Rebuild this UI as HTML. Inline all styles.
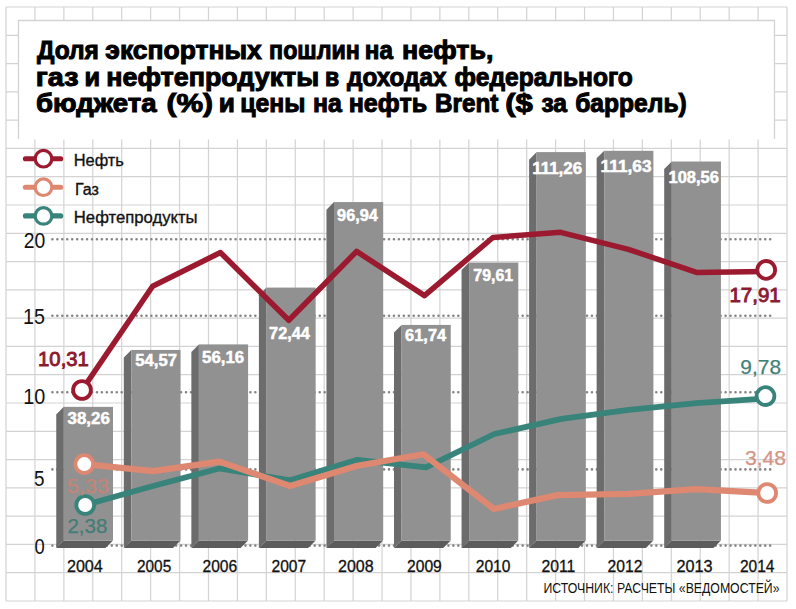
<!DOCTYPE html>
<html><head><meta charset="utf-8"><title>Chart</title>
<style>html,body{margin:0;padding:0;background:#fff;}svg{display:block;}</style>
</head><body>
<svg width="796" height="609" viewBox="0 0 796 609">
<rect width="796" height="609" fill="#fff"/>
<path d="M6.00 7V601M34.93 7V601M63.85 7V601M92.78 7V601M121.70 7V601M150.63 7V601M179.56 7V601M208.48 7V601M237.41 7V601M266.33 7V601M295.26 7V601M324.19 7V601M353.11 7V601M382.04 7V601M410.96 7V601M439.89 7V601M468.82 7V601M497.74 7V601M526.67 7V601M555.59 7V601M584.52 7V601M613.45 7V601M642.37 7V601M671.30 7V601M700.22 7V601M729.15 7V601M758.08 7V601M787.00 7V601M6 7.00H787M6 35.29H787M6 63.57H787M6 91.86H787M6 120.14H787M6 148.43H787M6 176.72H787M6 205.00H787M6 233.29H787M6 261.57H787M6 289.86H787M6 318.15H787M6 346.43H787M6 374.72H787M6 403.00H787M6 431.29H787M6 459.58H787M6 487.86H787M6 516.15H787M6 544.43H787M6 572.72H787M6 601.01H787" stroke="#d3d3d3" stroke-width="1.2" fill="none"/>
<rect x="18.5" y="20.5" width="756" height="119" fill="#fff"/>
<path d="M18.5 139V20.5H774.5V139" stroke="#d3d3d3" stroke-width="1.3" fill="none"/>
<text x="37.00" y="59.00" font-family="Liberation Sans, Arial, sans-serif" font-weight="bold" font-size="25" fill="#000" stroke="#000" stroke-width="1.0" textLength="61.87" lengthAdjust="spacingAndGlyphs">Доля</text>
<text x="105.35" y="59.00" font-family="Liberation Sans, Arial, sans-serif" font-weight="bold" font-size="25" fill="#000" stroke="#000" stroke-width="1.0" textLength="156.48" lengthAdjust="spacingAndGlyphs">экспортных</text>
<text x="269.11" y="59.00" font-family="Liberation Sans, Arial, sans-serif" font-weight="bold" font-size="25" fill="#000" stroke="#000" stroke-width="1.0" textLength="90.76" lengthAdjust="spacingAndGlyphs">пошлин</text>
<text x="364.83" y="59.00" font-family="Liberation Sans, Arial, sans-serif" font-weight="bold" font-size="25" fill="#000" stroke="#000" stroke-width="1.0" textLength="28.16" lengthAdjust="spacingAndGlyphs">на</text>
<text x="402.07" y="59.00" font-family="Liberation Sans, Arial, sans-serif" font-weight="bold" font-size="25" fill="#000" stroke="#000" stroke-width="1.0" textLength="91.29" lengthAdjust="spacingAndGlyphs">нефть,</text>
<text x="35.85" y="86.00" font-family="Liberation Sans, Arial, sans-serif" font-weight="bold" font-size="25" fill="#000" stroke="#000" stroke-width="1.0" textLength="42.69" lengthAdjust="spacingAndGlyphs">газ</text>
<text x="84.58" y="86.00" font-family="Liberation Sans, Arial, sans-serif" font-weight="bold" font-size="25" fill="#000" stroke="#000" stroke-width="1.0" textLength="15.60" lengthAdjust="spacingAndGlyphs">и</text>
<text x="106.27" y="86.00" font-family="Liberation Sans, Arial, sans-serif" font-weight="bold" font-size="25" fill="#000" stroke="#000" stroke-width="1.0" textLength="212.96" lengthAdjust="spacingAndGlyphs">нефтепродукты</text>
<text x="325.00" y="86.00" font-family="Liberation Sans, Arial, sans-serif" font-weight="bold" font-size="25" fill="#000" stroke="#000" stroke-width="1.0" textLength="14.14" lengthAdjust="spacingAndGlyphs">в</text>
<text x="347.00" y="86.00" font-family="Liberation Sans, Arial, sans-serif" font-weight="bold" font-size="25" fill="#000" stroke="#000" stroke-width="1.0" textLength="99.55" lengthAdjust="spacingAndGlyphs">доходах</text>
<text x="454.58" y="86.00" font-family="Liberation Sans, Arial, sans-serif" font-weight="bold" font-size="25" fill="#000" stroke="#000" stroke-width="1.0" textLength="178.22" lengthAdjust="spacingAndGlyphs">федерального</text>
<text x="36.00" y="112.40" font-family="Liberation Sans, Arial, sans-serif" font-weight="bold" font-size="25" fill="#000" stroke="#000" stroke-width="1.0" textLength="120.64" lengthAdjust="spacingAndGlyphs">бюджета</text>
<text x="166.43" y="112.40" font-family="Liberation Sans, Arial, sans-serif" font-weight="bold" font-size="25" fill="#000" stroke="#000" stroke-width="1.0" textLength="46.56" lengthAdjust="spacingAndGlyphs">(%)</text>
<text x="218.85" y="112.40" font-family="Liberation Sans, Arial, sans-serif" font-weight="bold" font-size="25" fill="#000" stroke="#000" stroke-width="1.0" textLength="16.11" lengthAdjust="spacingAndGlyphs">и</text>
<text x="240.26" y="112.40" font-family="Liberation Sans, Arial, sans-serif" font-weight="bold" font-size="25" fill="#000" stroke="#000" stroke-width="1.0" textLength="65.14" lengthAdjust="spacingAndGlyphs">цены</text>
<text x="313.05" y="112.40" font-family="Liberation Sans, Arial, sans-serif" font-weight="bold" font-size="25" fill="#000" stroke="#000" stroke-width="1.0" textLength="28.85" lengthAdjust="spacingAndGlyphs">на</text>
<text x="348.73" y="112.40" font-family="Liberation Sans, Arial, sans-serif" font-weight="bold" font-size="25" fill="#000" stroke="#000" stroke-width="1.0" textLength="78.36" lengthAdjust="spacingAndGlyphs">нефть</text>
<text x="434.98" y="112.40" font-family="Liberation Sans, Arial, sans-serif" font-weight="bold" font-size="25" fill="#000" stroke="#000" stroke-width="1.0" textLength="63.39" lengthAdjust="spacingAndGlyphs">Brent</text>
<text x="505.15" y="112.40" font-family="Liberation Sans, Arial, sans-serif" font-weight="bold" font-size="25" fill="#000" stroke="#000" stroke-width="1.0" textLength="27.54" lengthAdjust="spacingAndGlyphs">($</text>
<text x="541.43" y="112.40" font-family="Liberation Sans, Arial, sans-serif" font-weight="bold" font-size="25" fill="#000" stroke="#000" stroke-width="1.0" textLength="25.60" lengthAdjust="spacingAndGlyphs">за</text>
<text x="575.17" y="112.40" font-family="Liberation Sans, Arial, sans-serif" font-weight="bold" font-size="25" fill="#000" stroke="#000" stroke-width="1.0" textLength="111.59" lengthAdjust="spacingAndGlyphs">баррель)</text>
<line x1="25.4" y1="158.7" x2="60.7" y2="158.7" stroke="#9b1a2f" stroke-width="5.1" stroke-linecap="round"/>
<circle cx="43.5" cy="158.7" r="8.3" fill="#fff" stroke="#9b1a2f" stroke-width="3.2"/>
<text x="73.70" y="165.90" font-family="Liberation Sans, Arial, sans-serif" font-weight="normal" font-size="17.3" fill="#111" stroke="#111" stroke-width="0.35" textLength="50.25" lengthAdjust="spacingAndGlyphs">Нефть</text>
<line x1="25.4" y1="187.2" x2="60.7" y2="187.2" stroke="#de8771" stroke-width="5.1" stroke-linecap="round"/>
<circle cx="43.5" cy="187.2" r="8.3" fill="#fff" stroke="#de8771" stroke-width="3.2"/>
<text x="74.97" y="194.70" font-family="Liberation Sans, Arial, sans-serif" font-weight="normal" font-size="17.3" fill="#111" stroke="#111" stroke-width="0.35" textLength="23.93" lengthAdjust="spacingAndGlyphs">Газ</text>
<line x1="25.4" y1="215.9" x2="60.7" y2="215.9" stroke="#38837a" stroke-width="5.1" stroke-linecap="round"/>
<circle cx="43.5" cy="215.9" r="8.3" fill="#fff" stroke="#38837a" stroke-width="3.2"/>
<text x="73.84" y="223.40" font-family="Liberation Sans, Arial, sans-serif" font-weight="normal" font-size="17.3" fill="#111" stroke="#111" stroke-width="0.35" textLength="123.73" lengthAdjust="spacingAndGlyphs">Нефтепродукты</text>
<line x1="52.4" y1="545.6" x2="773.5" y2="545.6" stroke="#858585" stroke-width="2.6" stroke-dasharray="0 4.95" stroke-linecap="round"/>
<line x1="52.4" y1="469.4" x2="773.5" y2="469.4" stroke="#858585" stroke-width="2.6" stroke-dasharray="0 4.95" stroke-linecap="round"/>
<line x1="52.4" y1="392.3" x2="773.5" y2="392.3" stroke="#858585" stroke-width="2.6" stroke-dasharray="0 4.95" stroke-linecap="round"/>
<line x1="52.4" y1="315.8" x2="773.5" y2="315.8" stroke="#858585" stroke-width="2.6" stroke-dasharray="0 4.95" stroke-linecap="round"/>
<line x1="52.4" y1="239.3" x2="773.5" y2="239.3" stroke="#858585" stroke-width="2.6" stroke-dasharray="0 4.95" stroke-linecap="round"/>
<text x="23.75" y="248.48" font-family="Liberation Sans, Arial, sans-serif" font-weight="normal" font-size="22.2" fill="#111" textLength="21.54" lengthAdjust="spacingAndGlyphs">20</text>
<text x="23.05" y="323.68" font-family="Liberation Sans, Arial, sans-serif" font-weight="normal" font-size="22.2" fill="#111" textLength="21.91" lengthAdjust="spacingAndGlyphs">15</text>
<text x="23.18" y="403.68" font-family="Liberation Sans, Arial, sans-serif" font-weight="normal" font-size="22.2" fill="#111" textLength="22.04" lengthAdjust="spacingAndGlyphs">10</text>
<text x="34.07" y="485.78" font-family="Liberation Sans, Arial, sans-serif" font-weight="normal" font-size="22.2" fill="#111" textLength="10.50" lengthAdjust="spacingAndGlyphs">5</text>
<text x="34.60" y="553.68" font-family="Liberation Sans, Arial, sans-serif" font-weight="normal" font-size="22.2" fill="#111" textLength="10.23" lengthAdjust="spacingAndGlyphs">0</text>
<polygon points="63.80,406.87 56.25,414.42 56.25,547.95 63.80,540.40" fill="#6c6c6c"/>
<polygon points="63.80,540.40 113.00,540.40 105.45,547.95 56.25,547.95" fill="#5c5c5c"/>
<rect x="63.80" y="406.87" width="49.2" height="133.53" fill="#919192"/>
<polygon points="131.35,349.95 123.80,357.50 123.80,547.95 131.35,540.40" fill="#6c6c6c"/>
<polygon points="131.35,540.40 180.55,540.40 173.00,547.95 123.80,547.95" fill="#5c5c5c"/>
<rect x="131.35" y="349.95" width="49.2" height="190.45" fill="#919192"/>
<polygon points="198.90,344.40 191.35,351.95 191.35,547.95 198.90,540.40" fill="#6c6c6c"/>
<polygon points="198.90,540.40 248.10,540.40 240.55,547.95 191.35,547.95" fill="#5c5c5c"/>
<rect x="198.90" y="344.40" width="49.2" height="196.00" fill="#919192"/>
<polygon points="266.45,287.58 258.90,295.13 258.90,547.95 266.45,540.40" fill="#6c6c6c"/>
<polygon points="266.45,540.40 315.65,540.40 308.10,547.95 258.90,547.95" fill="#5c5c5c"/>
<rect x="266.45" y="287.58" width="49.2" height="252.82" fill="#919192"/>
<polygon points="334.00,202.08 326.45,209.63 326.45,547.95 334.00,540.40" fill="#6c6c6c"/>
<polygon points="334.00,540.40 383.20,540.40 375.65,547.95 326.45,547.95" fill="#5c5c5c"/>
<rect x="334.00" y="202.08" width="49.2" height="338.32" fill="#919192"/>
<polygon points="401.55,324.93 394.00,332.48 394.00,547.95 401.55,540.40" fill="#6c6c6c"/>
<polygon points="401.55,540.40 450.75,540.40 443.20,547.95 394.00,547.95" fill="#5c5c5c"/>
<rect x="401.55" y="324.93" width="49.2" height="215.47" fill="#919192"/>
<polygon points="469.10,262.56 461.55,270.11 461.55,547.95 469.10,540.40" fill="#6c6c6c"/>
<polygon points="469.10,540.40 518.30,540.40 510.75,547.95 461.55,547.95" fill="#5c5c5c"/>
<rect x="469.10" y="262.56" width="49.2" height="277.84" fill="#919192"/>
<polygon points="536.65,152.10 529.10,159.65 529.10,547.95 536.65,540.40" fill="#6c6c6c"/>
<polygon points="536.65,540.40 585.85,540.40 578.30,547.95 529.10,547.95" fill="#5c5c5c"/>
<rect x="536.65" y="152.10" width="49.2" height="388.30" fill="#919192"/>
<polygon points="604.20,150.81 596.65,158.36 596.65,547.95 604.20,540.40" fill="#6c6c6c"/>
<polygon points="604.20,540.40 653.40,540.40 645.85,547.95 596.65,547.95" fill="#5c5c5c"/>
<rect x="604.20" y="150.81" width="49.2" height="389.59" fill="#919192"/>
<polygon points="671.75,161.53 664.20,169.08 664.20,547.95 671.75,540.40" fill="#6c6c6c"/>
<polygon points="671.75,540.40 720.95,540.40 713.40,547.95 664.20,547.95" fill="#5c5c5c"/>
<rect x="671.75" y="161.53" width="49.2" height="378.87" fill="#919192"/>
<text x="67.54" y="424.04" font-family="Liberation Sans, Arial, sans-serif" font-weight="bold" font-size="16.2" fill="#fff" stroke="#fff" stroke-width="0.5" textLength="42.40" lengthAdjust="spacingAndGlyphs">38,26</text>
<text x="135.32" y="365.54" font-family="Liberation Sans, Arial, sans-serif" font-weight="bold" font-size="16.2" fill="#fff" stroke="#fff" stroke-width="0.5" textLength="41.60" lengthAdjust="spacingAndGlyphs">54,57</text>
<text x="202.14" y="362.74" font-family="Liberation Sans, Arial, sans-serif" font-weight="bold" font-size="16.2" fill="#fff" stroke="#fff" stroke-width="0.5" textLength="42.09" lengthAdjust="spacingAndGlyphs">56,16</text>
<text x="269.13" y="338.94" font-family="Liberation Sans, Arial, sans-serif" font-weight="bold" font-size="16.2" fill="#fff" stroke="#fff" stroke-width="0.5" textLength="40.76" lengthAdjust="spacingAndGlyphs">72,44</text>
<text x="337.11" y="221.44" font-family="Liberation Sans, Arial, sans-serif" font-weight="bold" font-size="16.2" fill="#fff" stroke="#fff" stroke-width="0.5" textLength="40.69" lengthAdjust="spacingAndGlyphs">96,94</text>
<text x="405.14" y="341.34" font-family="Liberation Sans, Arial, sans-serif" font-weight="bold" font-size="16.2" fill="#fff" stroke="#fff" stroke-width="0.5" textLength="40.99" lengthAdjust="spacingAndGlyphs">61,74</text>
<text x="473.36" y="281.34" font-family="Liberation Sans, Arial, sans-serif" font-weight="bold" font-size="16.2" fill="#fff" stroke="#fff" stroke-width="0.5" textLength="39.71" lengthAdjust="spacingAndGlyphs">79,61</text>
<text x="532.17" y="173.54" font-family="Liberation Sans, Arial, sans-serif" font-weight="bold" font-size="16.2" fill="#fff" stroke="#fff" stroke-width="0.5" textLength="49.97" lengthAdjust="spacingAndGlyphs">111,26</text>
<text x="600.62" y="171.84" font-family="Liberation Sans, Arial, sans-serif" font-weight="bold" font-size="16.2" fill="#fff" stroke="#fff" stroke-width="0.5" textLength="50.88" lengthAdjust="spacingAndGlyphs">111,63</text>
<text x="668.54" y="183.24" font-family="Liberation Sans, Arial, sans-serif" font-weight="bold" font-size="16.2" fill="#fff" stroke="#fff" stroke-width="0.5" textLength="50.35" lengthAdjust="spacingAndGlyphs">108,56</text>
<path d="M85.2,505 L153,486 L219.3,468.5 L290,480.3 L357.3,459.9 L426,467.4 L494.3,434 L561.4,418.9 L628.9,409.8 L696.4,403.2 L765.5,398.5" fill="none" stroke="#38837a" stroke-width="5.8" stroke-linejoin="round" stroke-linecap="round"/>
<path d="M84.3,464.1 L153.3,471.1 L219.3,461.6 L290,486 L357.3,465.7 L423.4,454.3 L493.9,509 L557.4,495.1 L628.9,493.9 L696.4,489.2 L767,493" fill="none" stroke="#de8771" stroke-width="6.2" stroke-linejoin="round" stroke-linecap="round"/>
<path d="M82,390 L152.6,286.3 L220.4,252.5 L288.8,320.3 L356.6,251.4 L424.5,295.6 L492.9,237.5 L560.6,232.3 L628.4,249.3 L696.5,272.4 L766,271.6" fill="none" stroke="#9b1a2f" stroke-width="5.5" stroke-linejoin="round" stroke-linecap="round"/>
<circle cx="85.2" cy="505" r="8.9" fill="#fff" stroke="#38837a" stroke-width="3.8"/>
<circle cx="765.5" cy="396.1" r="8.9" fill="#fff" stroke="#38837a" stroke-width="3.8"/>
<circle cx="84.3" cy="464.1" r="8.9" fill="#fff" stroke="#de8771" stroke-width="3.8"/>
<circle cx="767.2" cy="493" r="8.9" fill="#fff" stroke="#de8771" stroke-width="3.8"/>
<circle cx="82" cy="390" r="8.9" fill="#fff" stroke="#9b1a2f" stroke-width="3.8"/>
<circle cx="766.2" cy="269.9" r="8.9" fill="#fff" stroke="#9b1a2f" stroke-width="3.8"/>
<text x="38.11" y="366.25" font-family="Liberation Sans, Arial, sans-serif" font-weight="normal" font-size="20.3" fill="#8c1b31" stroke="#8c1b31" stroke-width="0.9" textLength="50.69" lengthAdjust="spacingAndGlyphs">10,31</text>
<text x="729.47" y="301.55" font-family="Liberation Sans, Arial, sans-serif" font-weight="normal" font-size="20.3" fill="#8c1b31" stroke="#8c1b31" stroke-width="0.9" textLength="51.25" lengthAdjust="spacingAndGlyphs">17,91</text>
<text x="66.96" y="492.55" font-family="Liberation Sans, Arial, sans-serif" font-weight="normal" font-size="20.3" fill="#d4826e" stroke="#d4826e" stroke-width="0.25" opacity="0.75" textLength="41.99" lengthAdjust="spacingAndGlyphs">5,33</text>
<text x="744.95" y="464.75" font-family="Liberation Sans, Arial, sans-serif" font-weight="normal" font-size="20.3" fill="#d08272" stroke="#d08272" stroke-width="0.25" opacity="0.85" textLength="41.11" lengthAdjust="spacingAndGlyphs">3,48</text>
<text x="67.41" y="533.05" font-family="Liberation Sans, Arial, sans-serif" font-weight="normal" font-size="20.3" fill="#367a70" stroke="#367a70" stroke-width="0.25" opacity="0.85" textLength="39.99" lengthAdjust="spacingAndGlyphs">2,38</text>
<text x="740.36" y="374.25" font-family="Liberation Sans, Arial, sans-serif" font-weight="normal" font-size="20.3" fill="#3a7a72" stroke="#3a7a72" stroke-width="0.25" opacity="0.95" textLength="40.70" lengthAdjust="spacingAndGlyphs">9,78</text>
<text x="66.93" y="571.86" font-family="Liberation Sans, Arial, sans-serif" font-weight="normal" font-size="16" fill="#111" stroke="#111" stroke-width="0.3" textLength="35.83" lengthAdjust="spacingAndGlyphs">2004</text>
<text x="137.00" y="571.86" font-family="Liberation Sans, Arial, sans-serif" font-weight="normal" font-size="16" fill="#111" stroke="#111" stroke-width="0.3" textLength="34.18" lengthAdjust="spacingAndGlyphs">2005</text>
<text x="202.51" y="571.86" font-family="Liberation Sans, Arial, sans-serif" font-weight="normal" font-size="16" fill="#111" stroke="#111" stroke-width="0.3" textLength="34.68" lengthAdjust="spacingAndGlyphs">2006</text>
<text x="271.53" y="571.86" font-family="Liberation Sans, Arial, sans-serif" font-weight="normal" font-size="16" fill="#111" stroke="#111" stroke-width="0.3" textLength="34.59" lengthAdjust="spacingAndGlyphs">2007</text>
<text x="338.05" y="571.86" font-family="Liberation Sans, Arial, sans-serif" font-weight="normal" font-size="16" fill="#111" stroke="#111" stroke-width="0.3" textLength="35.65" lengthAdjust="spacingAndGlyphs">2008</text>
<text x="406.99" y="571.86" font-family="Liberation Sans, Arial, sans-serif" font-weight="normal" font-size="16" fill="#111" stroke="#111" stroke-width="0.3" textLength="34.79" lengthAdjust="spacingAndGlyphs">2009</text>
<text x="475.80" y="571.86" font-family="Liberation Sans, Arial, sans-serif" font-weight="normal" font-size="16" fill="#111" stroke="#111" stroke-width="0.3" textLength="34.65" lengthAdjust="spacingAndGlyphs">2010</text>
<text x="541.39" y="571.86" font-family="Liberation Sans, Arial, sans-serif" font-weight="normal" font-size="16" fill="#111" stroke="#111" stroke-width="0.3" textLength="33.85" lengthAdjust="spacingAndGlyphs">2011</text>
<text x="607.59" y="571.86" font-family="Liberation Sans, Arial, sans-serif" font-weight="normal" font-size="16" fill="#111" stroke="#111" stroke-width="0.3" textLength="34.90" lengthAdjust="spacingAndGlyphs">2012</text>
<text x="676.46" y="571.86" font-family="Liberation Sans, Arial, sans-serif" font-weight="normal" font-size="16" fill="#111" stroke="#111" stroke-width="0.3" textLength="36.16" lengthAdjust="spacingAndGlyphs">2013</text>
<text x="739.91" y="571.86" font-family="Liberation Sans, Arial, sans-serif" font-weight="normal" font-size="16" fill="#111" stroke="#111" stroke-width="0.3" textLength="34.52" lengthAdjust="spacingAndGlyphs">2014</text>
<text x="543.49" y="593.30" font-family="Liberation Sans, Arial, sans-serif" font-weight="normal" font-size="14.6" fill="#111" textLength="236.02" lengthAdjust="spacingAndGlyphs">ИСТОЧНИК: РАСЧЕТЫ «ВЕДОМОСТЕЙ»</text>
</svg>
</body></html>
